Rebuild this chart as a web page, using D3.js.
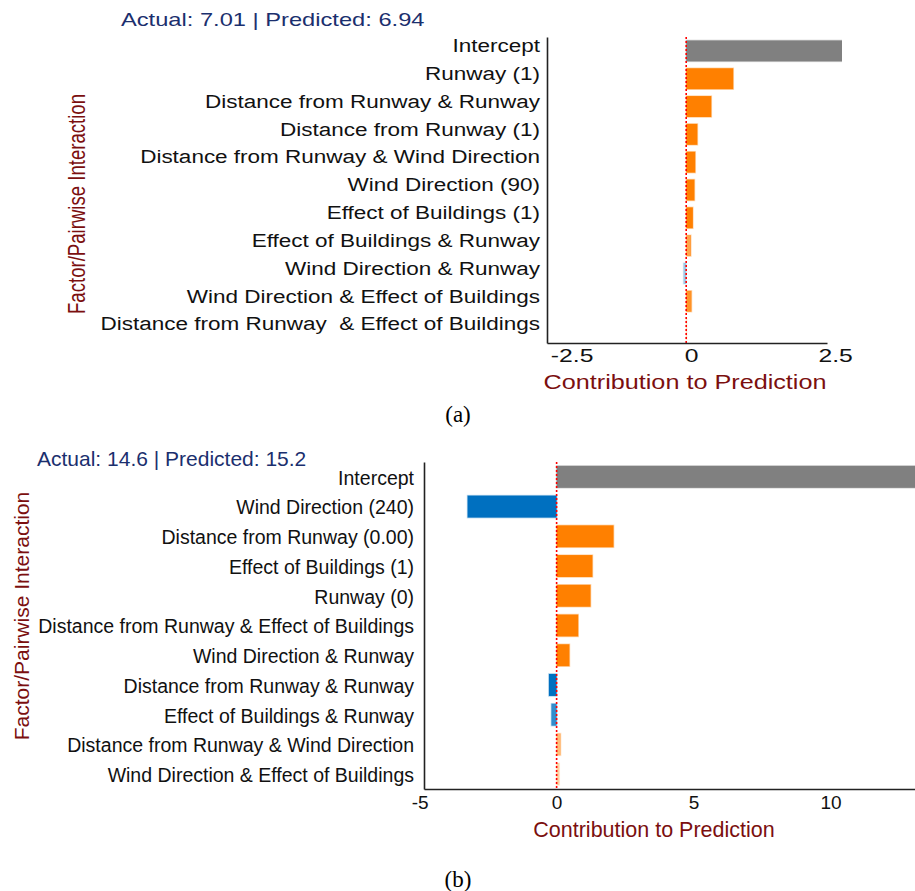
<!DOCTYPE html>
<html>
<head>
<meta charset="utf-8">
<script src="https://cdn.jsdelivr.net/npm/d3@7"></script>
<style>
  html, body { margin: 0; padding: 0; background: #fff; }
  svg { display: block; font-family: "Liberation Sans", Arial, sans-serif; }
</style>
</head>
<body>
<svg id="chart" width="915" height="891"></svg>
<script>
// ---- Panel (a): contributions for one observation ----
const termsA = [
  "Intercept",
  "Runway (1)",
  "Distance from Runway & Runway",
  "Distance from Runway (1)",
  "Distance from Runway & Wind Direction",
  "Wind Direction (90)",
  "Effect of Buildings (1)",
  "Effect of Buildings & Runway",
  "Wind Direction & Runway",
  "Wind Direction & Effect of Buildings",
  "Distance from Runway  & Effect of Buildings"
];
const valuesA = [4.76, 0.88, 0.47, 0.21, 0.17, 0.155, 0.125, 0.09, -0.05, 0.10, 0.01];
const ticksA = [-2.5, 0, 2.5];
const titleA = "Actual: 7.01 | Predicted: 6.94";

// ---- Panel (b): contributions for a second observation ----
const termsB = [
  "Intercept",
  "Wind Direction (240)",
  "Distance from Runway (0.00)",
  "Effect of Buildings (1)",
  "Runway (0)",
  "Distance from Runway & Effect of Buildings",
  "Wind Direction & Runway",
  "Distance from Runway & Runway",
  "Effect of Buildings & Runway",
  "Distance from Runway & Wind Direction",
  "Wind Direction & Effect of Buildings"
];
const valuesB = [13.1, -3.25, 2.08, 1.31, 1.24, 0.79, 0.47, -0.28, -0.19, 0.15, 0.10];
const ticksB = [-5, 0, 5, 10];
const titleB = "Actual: 14.6 | Predicted: 15.2";

const xAxisTitle = "Contribution to Prediction";
const yAxisTitle = "Factor/Pairwise Interaction";

const COLOR_POS = "#ff8000";
const COLOR_NEG = "#0070c0";
const COLOR_BASE = "#808080";
const COLOR_TITLE = "#1b2f6e";
const COLOR_AXIS_TITLE = "#7b0f0f";

const svg = d3.select("#chart");
const defs = svg.append("defs");

// text helper: positioned by transform so it can be widened horizontally
function addText(g, o) {
  return g.append("text")
    .attr("transform", `translate(${o.x},${o.y}) scale(${o.sx || 1},1) rotate(${o.rotate || 0})`)
    .attr("text-anchor", o.anchor || "start")
    .attr("font-size", o.size)
    .attr("fill", o.color || "#000")
    .text(o.text);
}

function drawPanel(cfg) {
  const g = svg.append("g").attr("class", "panel-" + cfg.id);
  const p = cfg.plot;

  const x = d3.scaleLinear().domain(cfg.domain).range([p.left, p.right]);
  const y = d3.scaleBand().domain(cfg.terms).range([p.top, p.bottom])
    .paddingInner(cfg.pad).paddingOuter(cfg.pad / 2);

  defs.append("clipPath").attr("id", "clip-" + cfg.id)
    .append("rect")
    .attr("x", p.left).attr("y", p.top - 5)
    .attr("width", cfg.clipRight - p.left).attr("height", p.bottom - p.top + 10);

  // bars
  const rows = cfg.terms.map((t, i) => ({ term: t, value: cfg.values[i], i }));
  const barColor = d => d.i === 0 ? COLOR_BASE : (d.value < 0 ? COLOR_NEG : COLOR_POS);
  // hairline bars fade toward the background
  const barOpacity = d => {
    const w = Math.abs(x(d.value) - x(0));
    return d.i === 0 ? 1 : Math.max(0.35, Math.min(1, (w - 2) / 4));
  };
  g.append("g").attr("clip-path", `url(#clip-${cfg.id})`)
    .selectAll("rect").data(rows).join("rect")
    .attr("x", d => x(Math.min(0, d.value)))
    .attr("width", d => Math.abs(x(d.value) - x(0)))
    .attr("y", d => y(d.term))
    .attr("height", y.bandwidth())
    .attr("fill", barColor)
    .attr("fill-opacity", barOpacity)
    .attr("stroke", barColor)
    .attr("stroke-opacity", d => 0.3 * barOpacity(d))
    .attr("stroke-width", 1.5);

  // zero reference line
  g.append("line")
    .attr("x1", x(0)).attr("x2", x(0))
    .attr("y1", p.top).attr("y2", p.bottom)
    .attr("stroke", "#ff0000").attr("stroke-width", 1.6)
    .attr("stroke-dasharray", "2,2");

  // y axis with term labels
  const yAxis = g.append("g").attr("transform", `translate(${p.left},0)`)
    .call(d3.axisLeft(y).tickSize(0).tickSizeOuter(0));
  yAxis.select(".domain").attr("stroke", "#222").attr("stroke-width", 1.6);
  yAxis.selectAll(".tick text")
    .attr("x", 0).attr("dy", "0.35em")
    .attr("transform", `translate(${-cfg.labelPad},${cfg.labelDy}) scale(${cfg.sx},1)`)
    .attr("font-family", "Liberation Sans, Arial, sans-serif")
    .attr("font-size", cfg.labelSize)
    .attr("fill", "#111")
    .style("white-space", "pre");

  // x axis
  const xAxis = g.append("g").attr("transform", `translate(0,${p.bottom})`)
    .call(d3.axisBottom(x).tickValues(cfg.ticks).tickFormat(d => String(d))
      .tickSize(0).tickSizeOuter(0));
  xAxis.select(".domain").attr("stroke", "#222").attr("stroke-width", 1.6);
  xAxis.selectAll(".tick text")
    .attr("y", 0).attr("dy", 0)
    .attr("text-anchor", cfg.tickAnchor)
    .attr("transform", `translate(${cfg.tickDx},${cfg.tickBaseline}) scale(${cfg.tickSx},1)`)
    .attr("font-family", "Liberation Sans, Arial, sans-serif")
    .attr("font-size", cfg.tickSize)
    .attr("fill", "#111");

  // titles
  addText(g, { ...cfg.xTitle, text: xAxisTitle, anchor: "middle", color: COLOR_AXIS_TITLE });
  addText(g, { ...cfg.yTitle, text: yAxisTitle, anchor: "middle", color: COLOR_AXIS_TITLE, rotate: -90 });
  addText(g, { ...cfg.title, text: cfg.titleText, color: COLOR_TITLE });
  addText(g, { ...cfg.caption, anchor: "middle", color: "#000" })
    .attr("font-family", "Liberation Serif, 'Times New Roman', serif");
}

drawPanel({
  id: "a",
  terms: termsA, values: valuesA, ticks: ticksA, titleText: titleA,
  plot: { left: 547, right: 827, top: 37, bottom: 343 },
  domain: [-2.6, 2.63], clipRight: 842, pad: 0.245,
  sx: 1.25, labelSize: 18, labelPad: 7, labelDy: -5,
  tickSize: 19, tickSx: 1.3, tickAnchor: "start", tickDx: -2, tickBaseline: 19,
  xTitle: { x: 685, y: 389, size: 20.5, sx: 1.23 },
  yTitle: { x: 85, y: 204, size: 18.6, sx: 1.24 },
  title: { x: 121, y: 26, size: 18.5, sx: 1.28 },
  caption: { text: "(a)", x: 458, y: 422, size: 23 }
});

drawPanel({
  id: "b",
  terms: termsB, values: valuesB, ticks: ticksB, titleText: titleB,
  plot: { left: 424, right: 915, top: 462, bottom: 789 },
  domain: [-4.84, 13.08], clipRight: 915, pad: 0.26,
  sx: 1, labelSize: 19.5, labelPad: 10, labelDy: 1,
  tickSize: 19, tickSx: 1, tickAnchor: "middle", tickDx: 0, tickBaseline: 20,
  xTitle: { x: 654, y: 837, size: 21.5, sx: 1 },
  yTitle: { x: 29, y: 616, size: 21, sx: 1 },
  title: { x: 37, y: 466, size: 21, sx: 1 },
  caption: { text: "(b)", x: 458, y: 887, size: 23 }
});
</script>
</body>
</html>
